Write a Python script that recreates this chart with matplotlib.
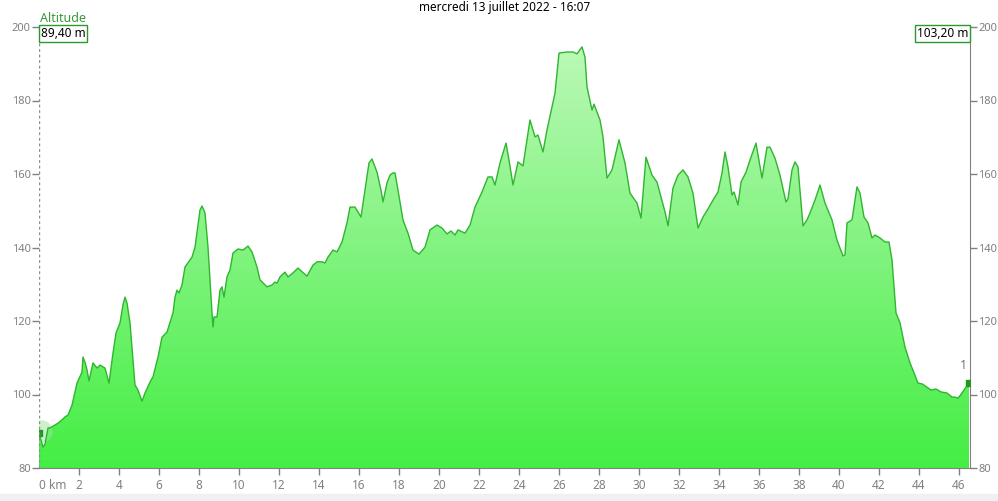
import numpy as np
import matplotlib
matplotlib.use('Agg')
import matplotlib.pyplot as plt
from matplotlib.colors import LinearSegmentedColormap

plt.rcParams['font.family'] = ['Noto Sans', 'DejaVu Sans']

# distance (km) and altitude (m)
km = [0.0, 0.2, 0.3, 0.45, 0.55, 0.95, 1.15, 1.3, 1.45, 1.65, 1.9, 2.15, 2.2, 2.3, 2.4,
      2.5, 2.7, 2.9, 3.05, 3.3, 3.5, 3.7, 3.85, 4.05, 4.2, 4.3, 4.4, 4.55, 4.7, 4.8,
      4.95, 5.15, 5.3, 5.55, 5.7, 5.95, 6.15, 6.4, 6.7, 6.8, 6.9, 7.0, 7.15, 7.3, 7.65,
      7.8, 7.95, 8.05, 8.15, 8.3, 8.45, 8.65, 8.7, 8.75, 8.9, 9.05, 9.15, 9.25, 9.4, 9.55,
      9.7, 9.95, 10.2, 10.45, 10.65, 10.9, 11.05, 11.4, 11.65, 11.8, 11.9, 12.05, 12.3, 12.45, 12.7,
      12.95, 13.4, 13.7, 13.9, 14.15, 14.3, 14.45, 14.7, 14.9, 15.15, 15.4, 15.55, 15.8, 16.1, 16.3,
      16.5, 16.65, 16.9, 17.1, 17.2, 17.4, 17.55, 17.7, 17.8, 17.95, 18.2, 18.45, 18.7, 19.0, 19.3,
      19.55, 19.9, 20.15, 20.4, 20.6, 20.8, 20.95, 21.3, 21.55, 21.8, 22.15, 22.45, 22.65, 22.8, 23.05,
      23.35, 23.5, 23.7, 23.95, 24.2, 24.55, 24.8, 24.95, 25.2, 25.4, 25.65, 25.8, 26.0, 26.4, 26.7,
      26.9, 27.15, 27.3, 27.4, 27.65, 27.75, 28.05, 28.2, 28.4, 28.65, 29.0, 29.3, 29.55, 29.9, 30.1,
      30.35, 30.65, 30.9, 31.05, 31.3, 31.45, 31.7, 31.95, 32.2, 32.45, 32.7, 32.95, 33.2, 33.45, 33.7,
      33.95, 34.15, 34.3, 34.45, 34.65, 34.75, 34.95, 35.1, 35.35, 35.55, 35.85, 36.15, 36.4, 36.55, 36.8,
      37.05, 37.35, 37.45, 37.65, 37.8, 37.95, 38.2, 38.4, 38.55, 38.8, 39.05, 39.3, 39.65, 39.9, 40.2,
      40.3, 40.4, 40.65, 40.9, 41.05, 41.25, 41.45, 41.65, 41.8, 42.05, 42.3, 42.5, 42.65, 42.85, 43.05,
      43.3, 43.55, 43.75, 43.95, 44.15, 44.4, 44.6, 44.85, 45.1, 45.4, 45.65, 45.8, 45.95, 46.15, 46.35,
      46.5]
alt = [89.4, 85.7, 86.5, 90.9, 90.9, 92.2, 93.1, 93.9, 94.4, 97.1, 103.1, 106.1, 110.2, 108.8, 106.7,
       103.7, 108.6, 107.2, 108.0, 107.2, 103.1, 111.3, 116.7, 119.5, 124.4, 126.5, 124.9, 119.5, 109.4, 102.6,
       101.2, 98.2, 100.4, 103.4, 104.8, 110.2, 115.6, 117.0, 122.2, 126.5, 128.4, 127.6, 129.8, 134.7, 137.4,
       140.1, 146.1, 150.2, 151.3, 149.4, 140.1, 122.2, 118.4, 121.1, 121.1, 128.4, 129.3, 126.5, 132.0, 133.9,
       138.5, 139.6, 139.3, 140.4, 138.8, 134.7, 131.2, 129.3, 129.8, 130.6, 130.3, 132.0, 133.3, 132.0, 133.1,
       134.4, 132.2, 135.2, 136.1, 136.1, 135.8, 137.4, 139.3, 138.8, 141.5, 146.7, 151.0, 151.0, 148.3, 155.6,
       163.0, 164.1, 160.5, 155.6, 152.4, 157.6, 159.7, 160.3, 160.3, 155.6, 147.5, 143.9, 139.3, 138.2, 140.1,
       144.8, 146.1, 145.3, 143.7, 144.5, 143.4, 144.8, 143.9, 146.1, 151.0, 155.1, 159.2, 159.2, 157.0, 163.0,
       168.4, 163.8, 157.0, 163.3, 162.2, 174.7, 170.1, 170.6, 166.0, 172.0, 178.2, 182.0, 192.9, 193.2, 193.2,
       192.7, 194.6, 191.8, 183.7, 177.4, 179.0, 174.7, 170.1, 158.9, 161.1, 169.3, 163.0, 154.8, 152.1, 148.0,
       164.6, 159.7, 157.8, 154.8, 149.7, 145.9, 156.2, 159.7, 161.1, 159.2, 154.8, 145.3, 148.3, 150.5, 152.9,
       155.1, 160.3, 166.0, 161.9, 154.3, 155.1, 151.6, 157.8, 160.5, 163.8, 168.4, 158.9, 167.3, 167.3, 164.3,
       159.7, 152.4, 153.2, 161.1, 163.3, 161.9, 145.9, 147.5, 149.4, 152.9, 157.0, 152.1, 147.5, 142.0, 137.7,
       138.0, 146.7, 147.5, 156.5, 154.8, 148.3, 146.7, 142.6, 143.4, 142.6, 141.5, 141.5, 136.6, 122.2, 119.5,
       112.9, 108.6, 105.9, 103.1, 102.9, 102.0, 101.2, 101.5, 100.7, 100.4, 99.3, 99.3, 99.0, 100.4, 102.0,
       103.2]

xticks = list(range(0, 47, 2))
xticklabels = ['0 km'] + [str(t) for t in xticks[1:]]
yticks = [80, 100, 120, 140, 160, 180, 200]
title = 'mercredi 13 juillet 2022 - 16:07'
start_label = '89,40 m'
end_label = '103,20 m'

W, H = 998, 501
fig = plt.figure(figsize=(W / 100, H / 100), dpi=100)
fig.patch.set_facecolor('white')
# grey strip at the very bottom
fig.patches.append(plt.Rectangle((0, 0), 1, 7 / H, transform=fig.transFigure,
                                 color='#f0f0f0', zorder=0))

ax = fig.add_axes([39 / W, 1 - 468 / H, 931 / W, 441 / H])
ax.set_xlim(0, 46.55)
ax.set_ylim(80, 200)

# vertical gradient fill clipped to the profile
cmap = LinearSegmentedColormap.from_list('g', ['#44ee44', '#c0f9bc'])
grad = np.linspace(0, 1, 256).reshape(-1, 1)
img = ax.imshow(grad, cmap=cmap, aspect='auto', origin='lower',
                extent=[0, 46.55, 80, 200], zorder=1)
clip = plt.Polygon(np.column_stack([[km[0]] + km + [km[-1]], [80] + alt + [80]]),
                   closed=True, transform=ax.transData, facecolor='none', edgecolor='none')
ax.add_patch(clip)
img.set_clip_path(clip)
ax.plot(km, alt, color='#2fb52f', lw=1.0, zorder=3)

# start / end markers
ax.scatter([km[0] + 0.1], [alt[0] + 0.8], s=260, color='#9be39b', alpha=0.5, zorder=2, lw=0)
ax.scatter([km[0]], [alt[0]], s=14, marker='s', color='#1f9a1f', zorder=4)
ax.scatter([km[-1]], [alt[-1]], s=14, marker='s', color='#1f9a1f', zorder=4)
ax.text(km[-1] - 0.1, alt[-1] + 3, '1', color='#707070', fontsize=9, ha='right', va='bottom')

ax.axvline(0, color='#7a9a7a', lw=1, ls=(0, (2, 2)), zorder=5)

ax.spines['top'].set_visible(False)
ax.spines['left'].set_visible(False)
for s in ['right', 'bottom']:
    ax.spines[s].set_color('#808080')

ax.set_xticks(xticks)
ax.set_xticklabels(xticklabels)
ax.set_yticks(yticks)
ax.tick_params(axis='both', colors='#808080', labelcolor='#808080', labelsize=8,
               length=5, width=1)
ax.tick_params(axis='y', left=True, right=True, labelleft=True, labelright=True, pad=1)
ax.tick_params(axis='x', pad=3, labelsize=8.5)
ax.get_xticklabels()[0].set_horizontalalignment('left')
ax.xaxis.get_major_ticks()[0].tick1line.set_visible(False)

fig.text(505 / W, 1 - 7 / H, title, ha='center', va='center', fontsize=8.5, color='black')
fig.text(40 / W, 1 - 18 / H, 'Altitude', ha='left', va='center', fontsize=9, color='#3a9a3a')
box = dict(boxstyle='square,pad=0.15', fc='white', ec='#2a9a2a', lw=1)
fig.text(41 / W, 1 - 33.5 / H, start_label, ha='left', va='center', fontsize=8.5,
         color='black', bbox=box)
fig.text(968 / W, 1 - 33.5 / H, end_label, ha='right', va='center', fontsize=8.5,
         color='black', bbox=box)

fig.savefig('out.png', dpi=100)
